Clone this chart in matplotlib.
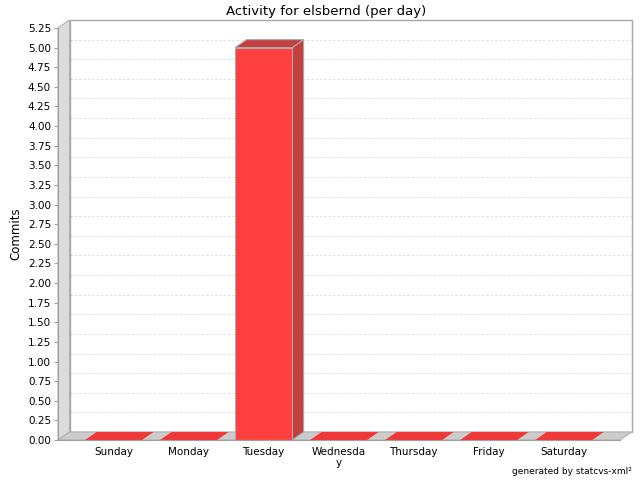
import numpy as np
import matplotlib
matplotlib.use("Agg")
import matplotlib.pyplot as plt
from matplotlib.patches import Polygon, Rectangle
from matplotlib.transforms import ScaledTranslation

# data
days = ["Sunday", "Monday", "Tuesday", "Wednesday", "Thursday", "Friday", "Saturday"]
day_labels = ["Sunday", "Monday", "Tuesday", "Wednesda\ny", "Thursday", "Friday", "Saturday"]
commits = [0, 0, 5, 0, 0, 0, 0]
y_ticks = np.arange(0, 5.26, 0.25)

# 3d depth offset in pixels
DX, DY = 11.5, 8
bar_w = 0.76

fig = plt.figure(figsize=(6.4, 4.8), dpi=100)
ax = fig.add_axes([58 / 640, 40 / 480, 562 / 640, 412 / 480])
ax.set_xlim(-0.74, 6.75)
ax.set_ylim(0, 5.25)
ax.patch.set_visible(False)

back = ax.transData + ScaledTranslation(DX / 100, DY / 100, fig.dpi_scale_trans)
x0, x1 = ax.get_xlim()
y0, y1 = ax.get_ylim()

# back wall
ax.add_patch(Rectangle((x0, y0), x1 - x0, y1 - y0, transform=back,
                       facecolor="white", edgecolor="none", clip_on=False, zorder=0))
# grid lines on the back wall
for t in y_ticks[1:-1]:
    ax.plot([x0, x1], [t, t], transform=back, color="#e0e0e0", lw=0.7,
            ls=(0, (2.5, 2)), clip_on=False, zorder=0.5)
ax.add_patch(Rectangle((x0, y0), x1 - x0, y1 - y0, transform=back,
                       facecolor="none", edgecolor="#a8a8a8", lw=1, clip_on=False, zorder=0.6))

inv = ax.transData.inverted()
def shifted(x, y):
    px, py = ax.transData.transform((x, y))
    return inv.transform((px + DX, py + DY))

# left wall and floor
wall = [(x0, y0), (x0, y1), shifted(x0, y1), shifted(x0, y0)]
ax.add_patch(Polygon(wall, closed=True, facecolor="#dcdcdc", edgecolor="#b0b0b0",
                     lw=0.8, clip_on=False, zorder=1))
floor = [(x0, y0), (x1, y0), shifted(x1, y0), shifted(x0, y0)]
ax.add_patch(Polygon(floor, closed=True, facecolor="#cccccc", edgecolor="#b0b0b0",
                     lw=0.8, clip_on=False, zorder=1))

# bars
front_c = "#ff4040"
side_c = "#c44040"
for i, v in enumerate(commits):
    l, r = i - bar_w / 2, i + bar_w / 2
    top = [(l, v), (r, v), shifted(r, v), shifted(l, v)]
    side = [(r, 0), (r, v), shifted(r, v), shifted(r, 0)]
    if v > 0:
        ax.add_patch(Polygon(side, closed=True, facecolor=side_c, edgecolor="#aaaaaa",
                             lw=0.8, clip_on=False, zorder=2))
        ax.add_patch(Polygon(top, closed=True, facecolor=side_c, edgecolor="#aaaaaa",
                             lw=0.8, clip_on=False, zorder=2))
        ax.bar(i, v, width=bar_w, color=front_c, edgecolor="#aaaaaa", lw=0.8, zorder=3)
    else:
        ax.add_patch(Polygon(top, closed=True, facecolor="#f03838", edgecolor="none",
                             clip_on=False, zorder=2))

# axes
for s in ["top", "right"]:
    ax.spines[s].set_visible(False)
ax.spines["left"].set_color("#a0a0a0")
ax.spines["bottom"].set_color("#a0a0a0")
ax.spines["left"].set_zorder(4)
ax.spines["bottom"].set_zorder(4)
ax.set_yticks(y_ticks)
ax.set_yticklabels([f"{t:.2f}" for t in y_ticks], fontsize=7.5)
ax.set_xticks(range(len(days)))
ax.set_xticklabels(day_labels, fontsize=7.5, linespacing=1.1)
ax.tick_params(axis="y", length=3, color="#a0a0a0", pad=2)
ax.tick_params(axis="x", length=0, pad=5)
ax.set_ylabel("Commits", fontsize=8.5, labelpad=4)

fig.suptitle("Activity for elsbernd (per day)", fontsize=9.5, y=0.99, va="top",
             x=326 / 640)
fig.text(632 / 640, 1 - 471 / 480, "generated by statcvs-xml²", fontsize=6.5,
         ha="right", va="center")

fig.savefig("out.png", dpi=100)
